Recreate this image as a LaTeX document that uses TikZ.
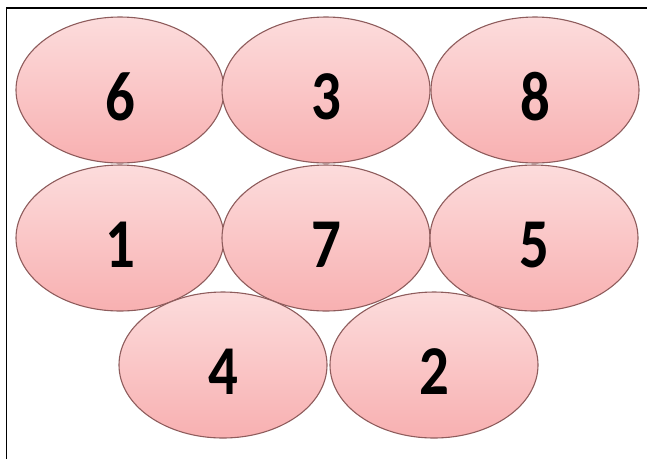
\documentclass[tikz,border=0pt]{standalone}
\usepackage{fontspec}
\setmainfont{Carlito}
\usetikzlibrary{shapes.geometric}
\definecolor{pinktop}{HTML}{FCDCDC}
\definecolor{pinkbot}{HTML}{F8B0B1}
\definecolor{edgecol}{HTML}{8E5C5C}
\tikzset{
  oval/.style={ellipse, minimum width=208pt, minimum height=146pt, inner sep=0pt,
    draw=edgecol, line width=1.1pt, top color=pinktop, bottom color=pinkbot},
  digit/.style={inner sep=0pt, text=black, font=\fontsize{70}{70}\selectfont\bfseries},
  frame/.style={draw=black, line width=1.6pt}
}
\newcommand{\dg}[1]{\scalebox{0.84}[1]{#1}}
\begin{document}
\begin{tikzpicture}[x=1pt,y=-1pt]
\useasboundingbox (0,0) rectangle (647,459);
\coordinate (fb) at (6.5,459);
\coordinate (fc) at (6.5,8);
\coordinate (fr) at (647,8);
\draw[frame] (fb) -- (fc) -- (fr);
\node[oval] (n6) at (120,90) {};
\node[oval] (n3) at (326,90) {};
\node[oval] (n8) at (535,90) {};
\node[oval] (n1) at (120,238) {};
\node[oval] (n7) at (326,238) {};
\node[oval] (n5) at (534,238) {};
\node[oval] (n4) at (223,365) {};
\node[oval] (n2) at (434,365) {};
\node[digit] (t6) at ([yshift=-7pt]n6.center) {\dg{6}};
\node[digit] (t3) at ([yshift=-7pt]n3.center) {\dg{3}};
\node[digit] (t8) at ([yshift=-7pt]n8.center) {\dg{8}};
\node[digit] (t1) at ([yshift=-7pt]n1.center) {\dg{1}};
\node[digit] (t7) at ([yshift=-7pt]n7.center) {\dg{7}};
\node[digit] (t5) at ([yshift=-7pt]n5.center) {\dg{5}};
\node[digit] (t4) at ([yshift=-7pt]n4.center) {\dg{4}};
\node[digit] (t2) at ([yshift=-7pt]n2.center) {\dg{2}};
\end{tikzpicture}
\end{document}
